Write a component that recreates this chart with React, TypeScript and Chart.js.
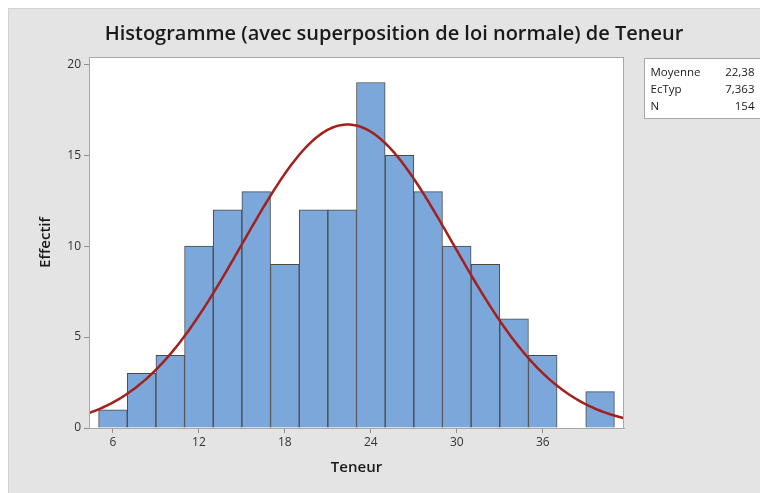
import React, { useEffect, useRef } from "react";
import { Chart, registerables } from "chart.js";

Chart.register(...registerables);

const TITLE = "Histogramme (avec superposition de loi normale) de Teneur";
const X_TITLE = "Teneur";
const Y_TITLE = "Effectif";

// Bin centers (bin width 2) and counts
const binCenters = [6, 8, 10, 12, 14, 16, 18, 20, 22, 24, 26, 28, 30, 32, 34, 36, 38, 40];
const counts = [1, 3, 4, 10, 12, 13, 9, 12, 12, 19, 15, 13, 10, 9, 6, 4, 0, 2];
const xTicks = [6, 12, 18, 24, 30, 36];
const yTicks = [0, 5, 10, 15, 20];

const MEAN = 22.38;
const SD = 7.363;
const N = 154;
const BIN_WIDTH = 2;
const X_MIN = 4.33;
const X_MAX = 41.67;

const statLabels = ["Moyenne", "EcTyp", "N"];
const statValues = ["22,38", "7,363", "154"];

const FONT = "'Open Sans', 'Noto Sans', sans-serif";

function normalCurve() {
  const pts: { x: number; y: number }[] = [];
  const steps = 300;
  for (let i = 0; i <= steps; i++) {
    const x = X_MIN + ((X_MAX - X_MIN) * i) / steps;
    const z = (x - MEAN) / SD;
    const y = (N * BIN_WIDTH) / (SD * Math.sqrt(2 * Math.PI)) * Math.exp(-0.5 * z * z);
    pts.push({ x, y });
  }
  return pts;
}

const framePlugin = {
  id: "frame",
  beforeDraw(chart: any) {
    const { ctx, chartArea } = chart;
    ctx.save();
    ctx.fillStyle = "#ffffff";
    ctx.fillRect(chartArea.left, chartArea.top, chartArea.right - chartArea.left, chartArea.bottom - chartArea.top);
    ctx.restore();
  },
  afterDraw(chart: any) {
    const { ctx, chartArea } = chart;
    ctx.save();
    ctx.strokeStyle = "#a8a8a8";
    ctx.lineWidth = 1;
    ctx.strokeRect(chartArea.left + 0.5, chartArea.top + 0.5, chartArea.right - chartArea.left - 1, chartArea.bottom - chartArea.top);
    // title
    ctx.fillStyle = "#1a1a1a";
    ctx.font = `600 20px ${FONT}`;
    ctx.textAlign = "center";
    ctx.textBaseline = "middle";
    ctx.fillText(TITLE, 385, 25);
    // stats box
    const bx = 635.5, by = 49.5, bw = 117, bh = 60;
    ctx.fillStyle = "#ffffff";
    ctx.fillRect(bx, by, bw, bh);
    ctx.strokeStyle = "#a8a8a8";
    ctx.strokeRect(bx, by, bw, bh);
    ctx.fillStyle = "#1a1a1a";
    ctx.font = `11.5px ${FONT}`;
    ctx.textBaseline = "middle";
    for (let i = 0; i < statLabels.length; i++) {
      const y = by + 14 + i * 17;
      ctx.textAlign = "left";
      ctx.fillText(statLabels[i], bx + 6, y);
      ctx.textAlign = "right";
      ctx.fillText(statValues[i], bx + bw - 7, y);
    }
    ctx.restore();
  },
};

export default function App() {
  const ref = useRef<HTMLCanvasElement>(null);
  useEffect(() => {
    if (!ref.current) return;
    const chart = new Chart(ref.current, {
      type: "bar",
      data: {
        datasets: [
          {
            type: "line",
            data: normalCurve(),
            borderColor: "#a3201c",
            borderWidth: 2.5,
            pointRadius: 0,
            tension: 0,
            order: 0,
          } as any,
          {
            type: "bar",
            data: binCenters.map((x, i) => ({ x, y: counts[i] })),
            backgroundColor: "#7ba7da",
            borderColor: "#4a4a4a",
            borderWidth: 1,
            barPercentage: 1,
            categoryPercentage: 1,
            order: 1,
          } as any,
        ],
      },
      options: {
        animation: false,
        responsive: false,
        maintainAspectRatio: false,
        layout: { padding: { right: 144, top: 48, left: 0, bottom: 0 } },
        plugins: {
          legend: { display: false },
          tooltip: { enabled: false },
          title: { display: false },
        },
        scales: {
          x: {
            type: "linear",
            min: X_MIN,
            max: X_MAX,
            offset: false,
            afterBuildTicks: (s: any) => {
              s.ticks = xTicks.map((v) => ({ value: v }));
            },
            afterFit: (s: any) => {
              s.height = 65;
            },
            grid: { display: true, offset: false, drawOnChartArea: false, drawTicks: true, tickLength: 5, color: "#909090" },
            border: { display: true, color: "#a8a8a8" },
            ticks: { color: "#333333", font: { family: FONT, size: 12 }, padding: 2, maxRotation: 0 },
            title: {
              display: true,
              text: X_TITLE,
              color: "#1a1a1a",
              font: { family: FONT, size: 15, weight: "600" as any },
              padding: { top: 0, bottom: 16 },
            },
          },
          y: {
            type: "linear",
            min: 0,
            max: 20.4,
            afterBuildTicks: (s: any) => {
              s.ticks = yTicks.map((v) => ({ value: v }));
            },
            afterFit: (s: any) => {
              s.width = 80;
            },
            grid: { display: true, drawOnChartArea: false, drawTicks: true, tickLength: 5, color: "#909090" },
            border: { display: true, color: "#a8a8a8" },
            ticks: { color: "#333333", font: { family: FONT, size: 12 }, padding: 3 },
            title: {
              display: true,
              text: Y_TITLE,
              color: "#1a1a1a",
              font: { family: FONT, size: 15, weight: "600" as any },
              padding: { top: 28, bottom: 0 },
            },
          },
        },
      },
      plugins: [framePlugin],
    });
    return () => chart.destroy();
  }, []);

  return (
    <div
      style={{
        width: 760,
        height: 485,
        background: "#e4e4e4",
        borderTop: "1px solid #d2d2d2",
        borderLeft: "1px solid #d2d2d2",
        boxSizing: "border-box",
        overflow: "hidden",
      }}
    >
      <canvas ref={ref} width={759} height={484} style={{ display: "block", width: 759, height: 484 }} />
    </div>
  );
}
